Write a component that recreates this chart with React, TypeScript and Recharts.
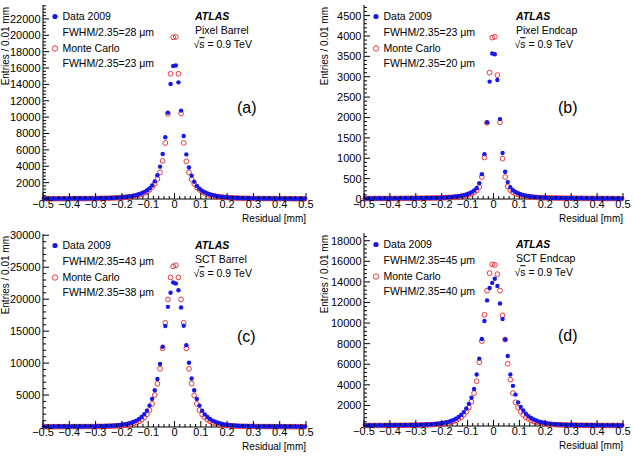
import React from 'react';
import { ScatterChart, Scatter, XAxis, YAxis } from 'recharts';

const FONT = '"Liberation Sans", Arial, Helvetica, sans-serif';
const DATA_COLOR = '#1616ee';
const MC_COLOR = '#e6393c';

// Residual bin centres in mm: 100 bins, 0.01 mm wide, from -0.5 to 0.5
const binCenters: number[] = Array.from({ length: 100 }, (_, i) => Number((-0.495 + i * 0.01).toFixed(3)));

// (a) Pixel Barrel
const pixelBarrelData = [
  36, 34, 40, 38, 43, 41, 46, 44, 50, 48, 54, 52, 58, 61, 59, 66, 64, 71, 73, 77,
  80, 85, 92, 100, 110, 120, 135, 150, 170, 195, 225, 260, 300, 350, 410, 490, 580, 700, 850, 1050,
  1300, 1650, 2150, 2900, 3950, 5500, 7550, 10550, 14050, 16250,
  16300, 14250, 10800, 7700, 5450, 3850, 2850, 2100, 1600, 1250, 1000, 820, 680, 560, 470, 400, 340, 290, 250, 215,
  190, 165, 145, 130, 118, 105, 98, 90, 84, 78,
  75, 72, 70, 66, 63, 61, 57, 55, 52, 50, 47, 45, 43, 41, 39, 37, 36, 34, 33, 31,
];
const pixelBarrelMC = [
  30, 32, 31, 34, 36, 35, 38, 40, 39, 42, 44, 43, 47, 49, 48, 52, 55, 54, 59, 62,
  67, 72, 78, 85, 93, 103, 115, 130, 145, 165, 190, 220, 255, 295, 345, 410, 490, 590, 720, 890,
  1130, 1450, 1850, 2450, 3250, 4650, 6850, 10400, 15300, 19750,
  19800, 15300, 10450, 6850, 4600, 3250, 2400, 1850, 1420, 1120, 880, 710, 580, 480, 400, 340, 290, 250, 215, 188,
  162, 142, 128, 113, 100, 90, 83, 76, 70, 65,
  61, 58, 56, 53, 50, 49, 46, 44, 43, 41, 39, 38, 36, 35, 34, 32, 31, 30, 29, 28,
];

// (b) Pixel Endcap
const pixelEndcapData = [
  10, 11, 10, 12, 11, 12, 13, 12, 14, 13, 15, 14, 16, 15, 17, 16, 18, 17, 19, 20,
  19, 21, 22, 21, 23, 24, 25, 26, 28,
  31, 34, 38, 42, 47, 53, 60, 68, 78, 92, 110, 135, 165, 210, 270, 385, 610, 1100, 1880, 2880, 3570,
  3550, 2920, 1960, 1130, 670, 415, 290, 215, 170, 140, 115, 95, 80, 70, 60, 52, 46, 41, 37, 33, 30,
  28, 26, 25, 24, 22, 23, 21, 20, 21, 19, 18, 19, 17, 16, 17, 15, 16, 14, 15, 13,
  14, 12, 13, 12, 11, 12, 10, 11, 10,
];
const pixelEndcapMC = [
  9, 10, 11, 10, 11, 12, 11, 13, 12, 13, 14, 13, 15, 14, 16, 15, 17, 16, 18, 17,
  19, 20, 19, 21, 22, 23, 24, 25, 26, 28,
  30, 33, 36, 40, 45, 50, 57, 65, 75, 88, 105, 130, 162, 210, 295, 540, 1020, 1870, 3100, 3960,
  3980, 3040, 1885, 990, 540, 310, 215, 165, 132, 108, 90, 76, 66, 58, 51, 45, 40, 36, 33, 30,
  28, 27, 25, 24, 23, 22, 21, 20, 19, 20, 18, 17, 18, 16, 17, 15, 16, 14, 15, 13,
  14, 12, 13, 12, 11, 12, 10, 11, 10, 9,
];

// (c) SCT Barrel
const sctBarrelData = [
  60, 58, 62, 64, 63, 67, 69, 68, 72, 74, 76, 75, 79, 82, 84, 87, 90, 94, 99, 104,
  112, 122, 135, 148, 165, 185, 210, 240, 275, 320, 380, 450, 550, 670, 820, 1000, 1260, 1580, 2000, 2550,
  3350, 4400, 5750, 7500, 9850, 12550, 15800, 18800, 21000, 22600,
  22450, 21400, 18700, 15850, 12800, 10050, 7600, 5750, 4400, 3350, 2550, 1980, 1560, 1250, 990, 810, 660, 540, 440, 370,
  315, 270, 235, 205, 182, 162, 145, 132, 120, 110,
  103, 98, 94, 90, 86, 84, 81, 78, 76, 74, 71, 69, 70, 66, 64, 65, 62, 60, 61, 58,
];
const sctBarrelMC = [
  45, 47, 46, 49, 50, 52, 51, 54, 56, 55, 58, 60, 62, 61, 65, 67, 70, 72, 76, 80,
  85, 91, 98, 106, 116, 128, 142, 160, 182, 210, 245, 290, 350, 430, 540, 690, 890, 1150, 1500, 1980,
  2650, 3600, 5000, 6750, 9100, 12300, 16300, 19950, 23400, 25150,
  25300, 23400, 19950, 16300, 12300, 9100, 6800, 4950, 3600, 2650, 1970, 1500, 1150, 880, 680, 530, 420, 345, 285, 240,
  205, 178, 156, 139, 125, 114, 104, 96, 89, 83,
  79, 76, 72, 70, 66, 64, 62, 60, 57, 56, 54, 52, 51, 50, 48, 47, 46, 45, 44, 45,
];

// (d) SCT Endcap
const sctEndcapData = [
  55, 57, 56, 59, 61, 60, 63, 65, 67, 66, 70, 72, 74, 76, 79, 81, 84, 88, 92, 97,
  103, 111, 120, 130, 143, 158, 175, 195, 220, 250, 290, 340, 400, 480, 580, 710, 870, 1080, 1350, 1700,
  2150, 2750, 3600, 5000, 6550, 8450, 10200, 12200, 13400, 13900,
  14300, 13600, 11900, 10400, 8400, 6800, 5000, 3900, 3050, 2300, 1850, 1500, 1200, 960, 780, 640, 530, 440, 370, 315,
  270, 235, 205, 180, 160, 145, 132, 121, 112, 104,
  98, 93, 88, 85, 81, 79, 76, 73, 71, 69, 67, 64, 65, 62, 60, 61, 58, 57, 56, 55,
];
const sctEndcapMC = [
  45, 46, 48, 47, 50, 51, 53, 52, 55, 57, 59, 58, 62, 64, 66, 68, 71, 74, 77, 80,
  85, 91, 98, 106, 115, 126, 140, 156, 176, 200, 232, 270, 320, 380, 460, 560, 690, 860, 1100, 1400,
  1800, 2350, 3200, 4350, 6200, 8250, 10800, 13150, 14850, 15700,
  15650, 14750, 13150, 10750, 8400, 6050, 4500, 3200, 2300, 1780, 1380, 1080, 850, 680, 550, 450, 375, 315, 265, 228,
  197, 172, 153, 137, 124, 113, 104, 96, 89, 83,
  79, 76, 73, 70, 67, 66, 63, 61, 59, 57, 56, 54, 53, 51, 50, 49, 48, 47, 46, 45,
];

// Axis ticks
const xMajorTicks = [-0.5, -0.4, -0.3, -0.2, -0.1, 0, 0.1, 0.2, 0.3, 0.4, 0.5];
const xTickLabels = ['\u22120.5', '\u22120.4', '\u22120.3', '\u22120.2', '\u22120.1', '0', '0.1', '0.2', '0.3', '0.4', '0.5'];
const xAllTicks: number[] = Array.from({ length: 51 }, (_, i) => Number((-0.5 + i * 0.02).toFixed(2)));

const pbYTicks = [2000, 4000, 6000, 8000, 10000, 12000, 14000, 16000, 18000, 20000, 22000];
const peYTicks = [0, 500, 1000, 1500, 2000, 2500, 3000, 3500, 4000, 4500];
const sbYTicks = [5000, 10000, 15000, 20000, 25000, 30000];
const seYTicks = [2000, 4000, 6000, 8000, 10000, 12000, 14000, 16000, 18000];

type PanelSpec = {
  left: number; top: number; width: number; height: number;
  plotLeft: number; plotTop: number; plotRight: number; plotBottom: number;
  yMax: number; yMajor: number[]; yMinorStep: number;
  data: number[]; mc: number[];
  fwhmData: string; fwhmMC: string; detector: string; tag: string; yTitleX: number;
};

const panels: PanelSpec[] = [
  { left: 0, top: 0, width: 316, height: 228, plotLeft: 43, plotTop: 5, plotRight: 306, plotBottom: 199,
    yMax: 23700, yMajor: pbYTicks, yMinorStep: 400, data: pixelBarrelData, mc: pixelBarrelMC,
    fwhmData: 'FWHM/2.35=28 \u03bcm', fwhmMC: 'FWHM/2.35=23 \u03bcm', detector: 'Pixel Barrel', tag: '(a)', yTitleX: 5.5 },
  { left: 316, top: 0, width: 317, height: 228, plotLeft: 48, plotTop: 5, plotRight: 307, plotBottom: 199,
    yMax: 4760, yMajor: peYTicks, yMinorStep: 100, data: pixelEndcapData, mc: pixelEndcapMC,
    fwhmData: 'FWHM/2.35=23 \u03bcm', fwhmMC: 'FWHM/2.35=20 \u03bcm', detector: 'Pixel Endcap', tag: '(b)', yTitleX: 8.5 },
  { left: 0, top: 228, width: 316, height: 228, plotLeft: 43, plotTop: 6, plotRight: 306, plotBottom: 199,
    yMax: 30200, yMajor: sbYTicks, yMinorStep: 1000, data: sctBarrelData, mc: sctBarrelMC,
    fwhmData: 'FWHM/2.35=43 \u03bcm', fwhmMC: 'FWHM/2.35=38 \u03bcm', detector: 'SCT Barrel', tag: '(c)', yTitleX: 5.5 },
  { left: 316, top: 228, width: 317, height: 228, plotLeft: 48, plotTop: 5, plotRight: 307, plotBottom: 198,
    yMax: 18750, yMajor: seYTicks, yMinorStep: 400, data: sctEndcapData, mc: sctEndcapMC,
    fwhmData: 'FWHM/2.35=45 \u03bcm', fwhmMC: 'FWHM/2.35=40 \u03bcm', detector: 'SCT Endcap', tag: '(d)', yTitleX: 8.5 },
];

const MAJOR_LEN = 6;
const MINOR_LEN = 3;

const xMajorIndex = (v: number) => xMajorTicks.findIndex((t) => Math.abs(t - v) < 1e-6);

const BottomTick = (p: any) => {
  const idx = xMajorIndex(p.payload.value);
  const len = idx >= 0 ? MAJOR_LEN : MINOR_LEN;
  return (
    <g>
      <line x1={p.x} x2={p.x} y1={p.y} y2={p.y - len} stroke="#000" strokeWidth={1} />
      {idx >= 0 && (
        <text x={p.x} y={p.y + 5.5} dy="0.35em" textAnchor="middle" fontSize={11} fontFamily={FONT} fill="#000">
          {xTickLabels[idx]}
        </text>
      )}
    </g>
  );
};

const TopTick = (p: any) => {
  const len = xMajorIndex(p.payload.value) >= 0 ? MAJOR_LEN : MINOR_LEN;
  return <line x1={p.x} x2={p.x} y1={p.y} y2={p.y + len} stroke="#000" strokeWidth={1} />;
};

function Panel({ spec }: { spec: PanelSpec }) {
  const {
    width, height, plotLeft, plotTop, plotRight, plotBottom, yMax, yMajor, yMinorStep,
    data, mc, fwhmData, fwhmMC, detector, tag, yTitleX,
  } = spec;

  const dataPoints = binCenters.map((x, i) => ({ x, y: data[i] }));
  const mcPoints = binCenters.map((x, i) => ({ x, y: mc[i] }));

  const yTicks: number[] = [];
  for (let v = 0; v <= yMax; v += yMinorStep) yTicks.push(v);

  const isYMajor = (v: number) => yMajor.includes(v) || v === 0;

  const LeftTick = (p: any) => {
    const v = p.payload.value;
    const labelled = yMajor.includes(v);
    const len = isYMajor(v) ? MAJOR_LEN : MINOR_LEN;
    return (
      <g>
        <line x1={p.x} x2={p.x + len} y1={p.y} y2={p.y} stroke="#000" strokeWidth={1} />
        {labelled && (
          <text x={p.x - 2.5} y={p.y} dy="0.36em" textAnchor="end" fontSize={11} fontFamily={FONT} fill="#000">
            {String(v)}
          </text>
        )}
      </g>
    );
  };
  const RightTick = (p: any) => {
    const len = isYMajor(p.payload.value) ? MAJOR_LEN : MINOR_LEN;
    return <line x1={p.x} x2={p.x - len} y1={p.y} y2={p.y} stroke="#000" strokeWidth={1} />;
  };

  const txt = { fontFamily: FONT, fill: '#000' };
  const legendX = plotLeft + 12;
  const legendTextX = plotLeft + 19.5;
  const atlasX = plotLeft + 152;

  return (
    <div style={{ position: 'absolute', left: spec.left, top: spec.top, width, height }}>
      <ScatterChart
        width={width}
        height={height}
        margin={{ top: plotTop, right: width - plotRight, left: 0, bottom: 0 }}
      >
        <XAxis
          xAxisId="bottom"
          dataKey="x"
          type="number"
          domain={[-0.5, 0.5]}
          ticks={xAllTicks}
          interval={0}
          tick={BottomTick}
          tickLine={false}
          tickSize={0}
          tickMargin={0}
          axisLine={{ stroke: '#000', strokeWidth: 1 }}
          height={height - plotBottom}
        />
        <XAxis
          xAxisId="top"
          orientation="top"
          type="number"
          domain={[-0.5, 0.5]}
          ticks={xAllTicks}
          interval={0}
          tick={TopTick}
          tickLine={false}
          tickSize={0}
          tickMargin={0}
          axisLine={{ stroke: '#000', strokeWidth: 1 }}
          height={0}
        />
        <YAxis
          yAxisId="left"
          dataKey="y"
          type="number"
          domain={[0, yMax]}
          ticks={yTicks}
          interval={0}
          tick={LeftTick}
          tickLine={false}
          tickSize={0}
          tickMargin={0}
          axisLine={{ stroke: '#000', strokeWidth: 1 }}
          width={plotLeft}
        />
        <YAxis
          yAxisId="right"
          orientation="right"
          type="number"
          domain={[0, yMax]}
          ticks={yTicks}
          interval={0}
          tick={RightTick}
          tickLine={false}
          tickSize={0}
          tickMargin={0}
          axisLine={{ stroke: '#000', strokeWidth: 1 }}
          width={0}
        />
        <Scatter
          name="Monte Carlo"
          data={mcPoints}
          xAxisId="bottom"
          yAxisId="left"
          isAnimationActive={false}
          shape={(p: any) => (
            <circle cx={p.cx} cy={p.cy} r={2.4} fill="none" stroke={MC_COLOR} strokeWidth={1} />
          )}
        />
        <Scatter
          name="Data 2009"
          data={dataPoints}
          xAxisId="bottom"
          yAxisId="left"
          isAnimationActive={false}
          shape={(p: any) => <circle cx={p.cx} cy={p.cy} r={2.2} fill={DATA_COLOR} />}
        />
      </ScatterChart>
      <svg
        width={width}
        height={height}
        style={{ position: 'absolute', left: 0, top: 0, pointerEvents: 'none' }}
      >
        <circle cx={legendX} cy={plotTop + 11.5} r={2.6} fill={DATA_COLOR} />
        <text x={legendTextX} y={plotTop + 11.5} dy="0.35em" fontSize={10.5} {...txt}>Data 2009</text>
        <text x={legendTextX} y={plotTop + 27} dy="0.35em" fontSize={10.5} {...txt}>{fwhmData}</text>
        <circle cx={legendX} cy={plotTop + 43.5} r={2.7} fill="none" stroke={MC_COLOR} strokeWidth={1} />
        <text x={legendTextX} y={plotTop + 43.5} dy="0.35em" fontSize={10.5} {...txt}>Monte Carlo</text>
        <text x={legendTextX} y={plotTop + 58} dy="0.35em" fontSize={10.5} {...txt}>{fwhmMC}</text>

        <text x={atlasX} y={plotTop + 11.5} dy="0.35em" fontSize={10.5} fontWeight="bold" fontStyle="italic" {...txt}>ATLAS</text>
        <text x={atlasX} y={plotTop + 25.5} dy="0.35em" fontSize={10.5} {...txt}>{detector}</text>
        <text x={atlasX - 1.5} y={plotTop + 39.5} dy="0.35em" fontSize={10.5} {...txt}>
          {'\u221a'}<tspan textDecoration="overline">s</tspan>{' = 0.9 TeV'}
        </text>

        <text x={plotLeft + 194} y={plotTop + 102} dy="0.35em" fontSize={16} {...txt}>{tag}</text>

        <text
          transform={`translate(${yTitleX},${plotTop + 2}) rotate(-90)`}
          textAnchor="end"
          dy="0.35em"
          fontSize={10}
          {...txt}
        >
          Entries / 0.01 mm
        </text>
        <text x={plotRight} y={plotBottom + 19.5} dy="0.35em" textAnchor="end" fontSize={10} {...txt}>
          Residual [mm]
        </text>
      </svg>
    </div>
  );
}

export default function App() {
  return (
    <div style={{ position: 'absolute', left: 0, top: 0, width: 633, height: 456, background: '#fff' }}>
      {panels.map((p) => (
        <Panel key={p.tag} spec={p} />
      ))}
    </div>
  );
}
